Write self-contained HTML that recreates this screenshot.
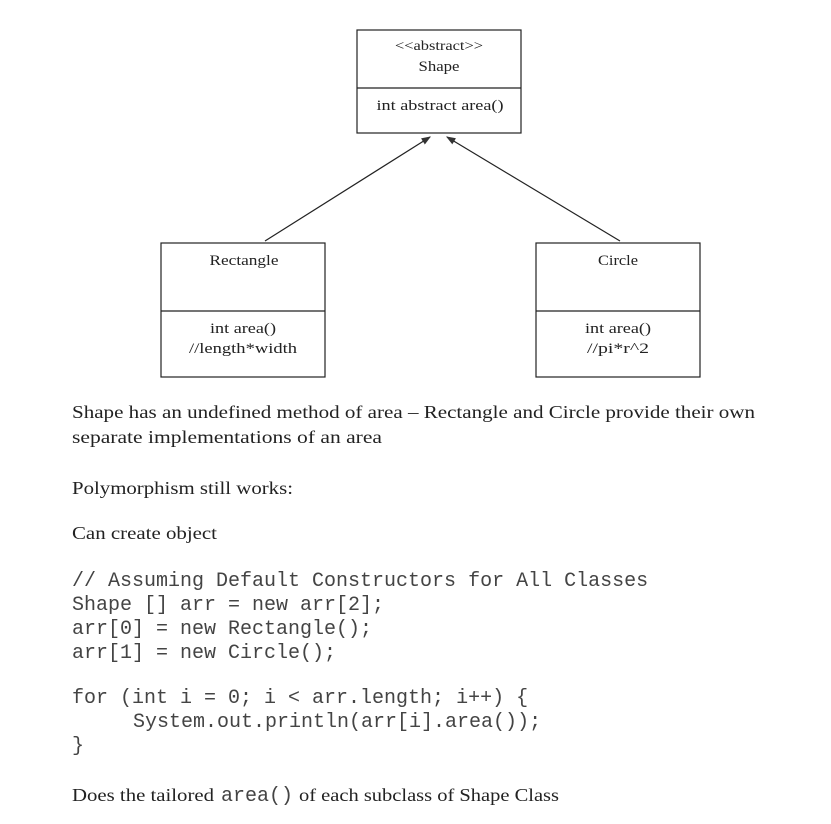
<!DOCTYPE html>
<html><head><meta charset="utf-8"><style>
html,body{margin:0;padding:0;background:#fff;width:831px;height:824px;overflow:hidden}
svg{display:block}
.s{font-family:"Liberation Serif",serif;fill:#222}
.m{font-family:"Liberation Mono",monospace;font-size:20px;fill:#444}
</style></head><body>
<svg width="831" height="824" viewBox="0 0 831 824">
<defs><marker id="a" markerWidth="8" markerHeight="6" refX="7" refY="3" orient="auto"><path d="M0,0 L8,3 L0,6 z" fill="#333"/></marker></defs>
<g fill="none" stroke="#222" stroke-width="1.2">
<rect x="357" y="30" width="164" height="103"/><line x1="357" y1="88" x2="521" y2="88"/>
<rect x="161" y="243" width="164" height="134"/><line x1="161" y1="311" x2="325" y2="311"/>
<rect x="536" y="243" width="164" height="134"/><line x1="536" y1="311" x2="700" y2="311"/>
<line x1="265" y1="241" x2="430" y2="137" marker-end="url(#a)"/>
<line x1="620" y1="241" x2="447" y2="137" marker-end="url(#a)"/>
</g>
<g class="s" font-size="15" text-anchor="middle">
<text x="439" y="50" font-size="14" textLength="88" lengthAdjust="spacingAndGlyphs">&lt;&lt;abstract&gt;&gt;</text>
<text x="439" y="71" textLength="41" lengthAdjust="spacingAndGlyphs">Shape</text>
<text x="440" y="110" textLength="127" lengthAdjust="spacingAndGlyphs">int abstract area()</text>
<text x="244" y="265" textLength="69" lengthAdjust="spacingAndGlyphs">Rectangle</text>
<text x="243" y="333" textLength="66" lengthAdjust="spacingAndGlyphs">int area()</text>
<text x="243" y="353" textLength="108" lengthAdjust="spacingAndGlyphs">//length*width</text>
<text x="618" y="265" textLength="40" lengthAdjust="spacingAndGlyphs">Circle</text>
<text x="618" y="333" textLength="66" lengthAdjust="spacingAndGlyphs">int area()</text>
<text x="618" y="353" textLength="62" lengthAdjust="spacingAndGlyphs">//pi*r^2</text>
</g>
<g class="s" font-size="18">
<text x="72" y="418" textLength="683" lengthAdjust="spacingAndGlyphs">Shape has an undefined method of area – Rectangle and Circle provide their own</text>
<text x="72" y="443" textLength="310" lengthAdjust="spacingAndGlyphs">separate implementations of an area</text>
<text x="72" y="494" textLength="221" lengthAdjust="spacingAndGlyphs">Polymorphism still works:</text>
<text x="72" y="539" textLength="145" lengthAdjust="spacingAndGlyphs">Can create object</text>
<text x="72" y="801" textLength="142" lengthAdjust="spacingAndGlyphs">Does the tailored</text>
<text x="221" y="801" class="m" font-size="18" textLength="72" lengthAdjust="spacingAndGlyphs">area()</text>
<text x="299" y="801" textLength="260" lengthAdjust="spacingAndGlyphs">of each subclass of Shape Class</text>
</g>
<g class="m" xml:space="preserve">
<text x="72" y="586">// Assuming Default Constructors for All Classes</text>
<text x="72" y="610">Shape [] arr = new arr[2];</text>
<text x="72" y="634">arr[0] = new Rectangle();</text>
<text x="72" y="658">arr[1] = new Circle();</text>
<text x="72" y="703">for (int i = 0; i &lt; arr.length; i++) {</text>
<text x="133" y="727">System.out.println(arr[i].area());</text>
<text x="72" y="751">}</text>
</g>
</svg>
</body></html>
